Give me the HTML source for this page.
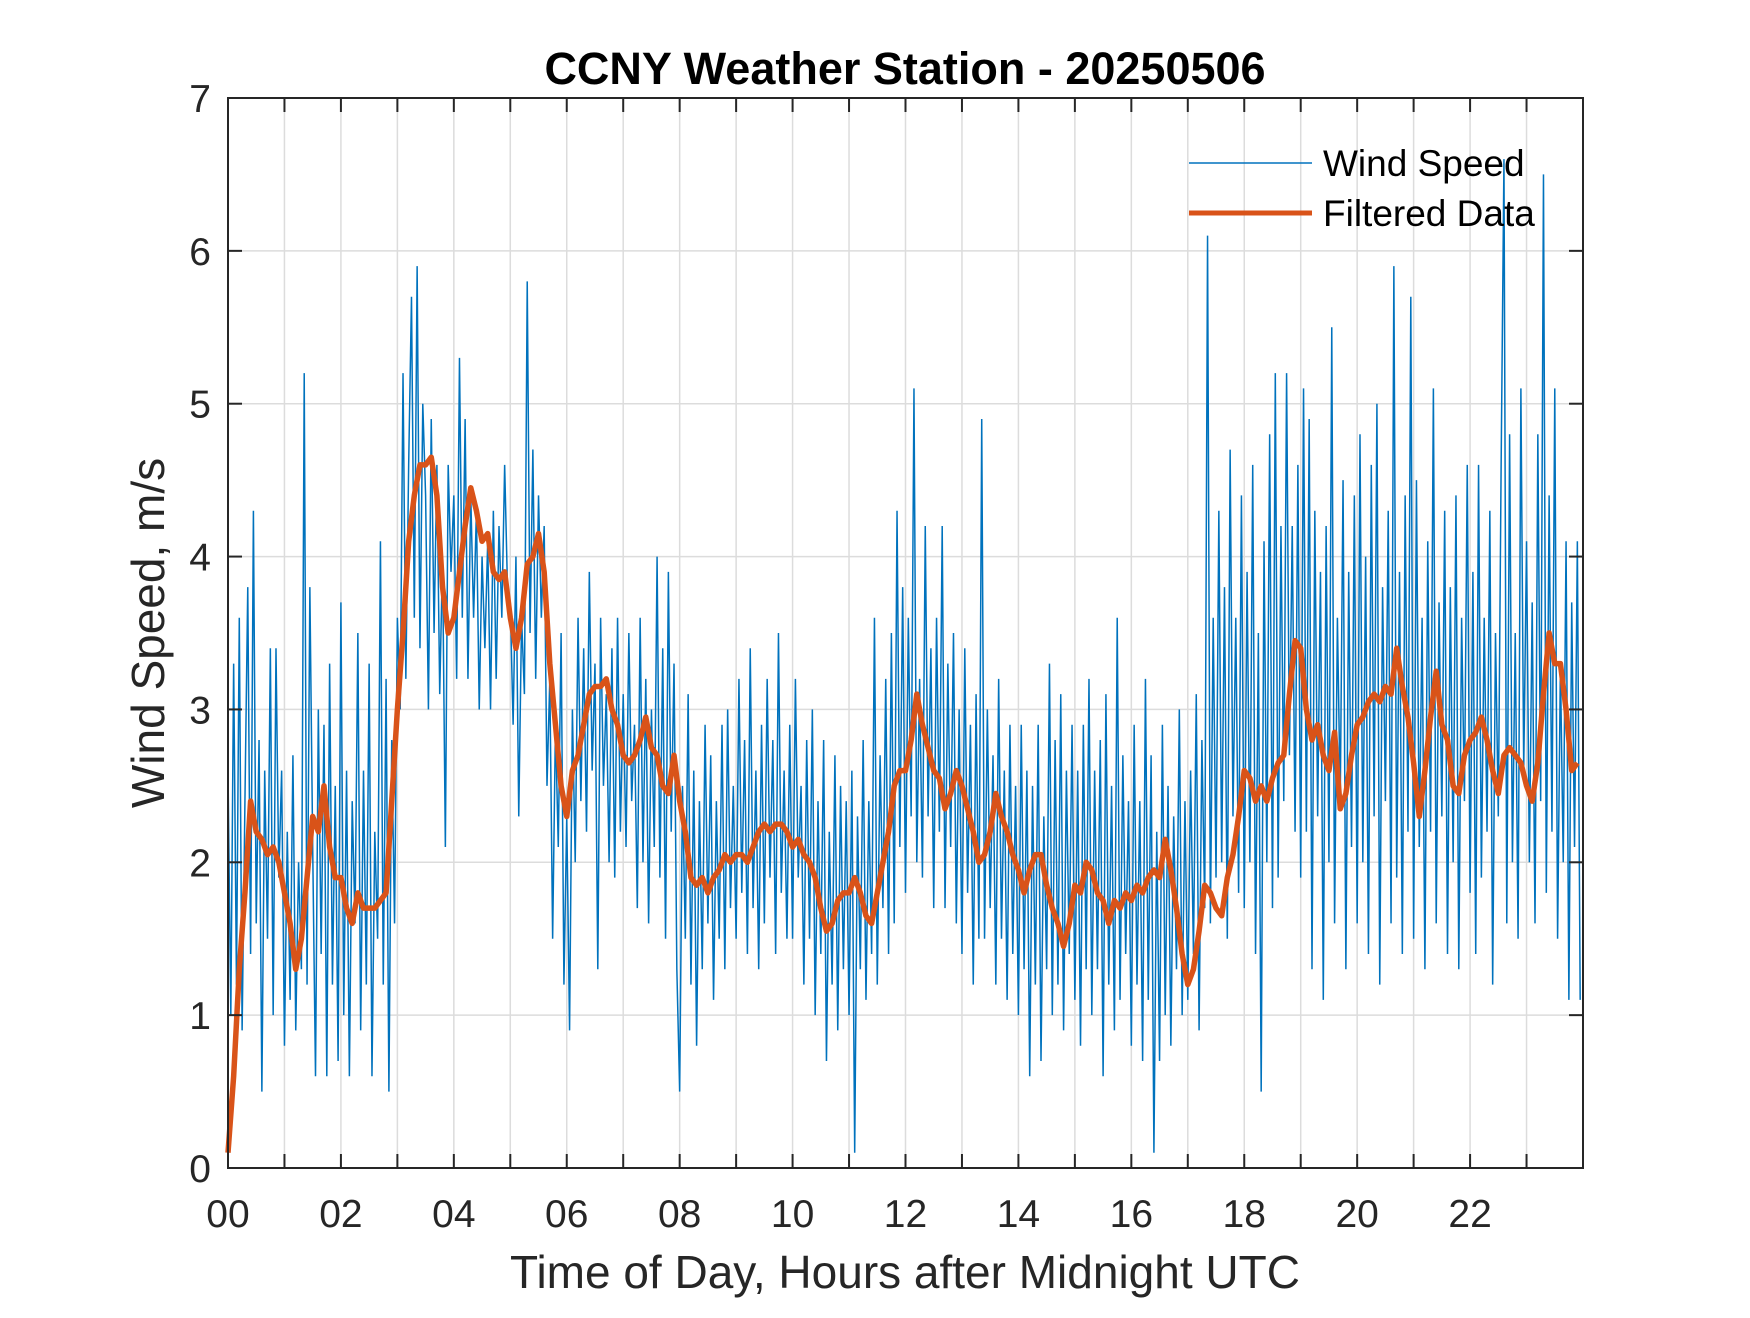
<!DOCTYPE html>
<html><head><meta charset="utf-8"><style>
body{margin:0;background:#fff}
svg text{font-family:"Liberation Sans",Arial,sans-serif;fill:#262626}
</style></head><body>
<svg id="chart" width="1750" height="1313" viewBox="0 0 1750 1313" xmlns="http://www.w3.org/2000/svg">
<rect width="1750" height="1313" fill="#fff"/>
<text x="905" y="84" text-anchor="middle" font-size="45" font-weight="bold" style="fill:#000">CCNY Weather Station - 20250506</text>
<g id="grid"></g>
<g id="series"></g>
<g id="axes"></g>
<text x="905" y="1288" text-anchor="middle" font-size="46">Time of Day, Hours after Midnight UTC</text>
<text transform="translate(164,633) rotate(-90)" text-anchor="middle" font-size="46">Wind Speed, m/s</text>
<g>
<line x1="1189" y1="163" x2="1312" y2="163" stroke="#0072BD" stroke-width="1.5"/>
<text x="1323" y="176" font-size="37" style="fill:#000">Wind Speed</text>
<line x1="1189" y1="213" x2="1312" y2="213" stroke="#D95319" stroke-width="5"/>
<text x="1323" y="226" font-size="37" style="fill:#000">Filtered Data</text>
</g>
</svg>
<script>
const xTickLabels=["00","02","04","06","08","10","12","14","16","18","20","22"];
const yTickLabels=["0","1","2","3","4","5","6","7"];
const windSpeed=[
2.6,1.0,3.3,1.2,3.6,0.9,2.4,3.8,1.4,4.3,1.6,2.8,0.5,2.6,1.5,3.4,1.0,3.4,1.9,2.6,
0.8,2.2,1.1,2.7,0.9,2.0,1.3,5.2,1.2,3.8,2.1,0.6,3.0,1.4,2.9,0.6,3.3,1.2,2.5,0.7,
3.7,1.0,2.6,0.6,2.4,1.6,3.5,0.9,2.6,1.2,3.3,0.6,2.2,1.5,4.1,1.2,3.2,0.5,2.8,1.6,
3.6,3.0,5.2,3.2,4.6,5.7,3.6,5.9,3.4,5.0,4.4,3.0,4.9,3.5,4.6,3.1,4.0,2.1,4.6,3.9,
4.4,3.2,5.3,3.6,4.9,3.2,4.4,3.6,4.3,3.0,4.0,3.4,4.1,3.0,4.3,3.2,4.2,3.6,4.6,3.8,
3.7,2.9,4.0,2.3,3.6,3.1,5.8,3.5,4.7,3.2,4.4,3.6,4.2,2.5,3.2,1.5,2.9,2.1,3.5,1.2,
2.3,0.9,3.0,2.0,3.6,2.4,3.4,2.2,3.9,2.6,3.3,1.3,3.6,2.5,3.1,2.0,3.4,1.9,3.6,2.2,
3.1,2.1,3.5,2.4,2.9,1.7,3.6,2.0,3.2,1.6,3.0,2.1,4.0,1.9,3.4,1.5,3.9,2.2,3.3,1.3,
0.5,2.5,1.5,3.1,1.2,2.6,0.8,2.4,1.3,2.9,1.6,2.7,1.1,2.4,1.5,2.9,1.3,3.0,1.7,2.5,
1.5,3.2,1.8,2.8,1.4,3.4,1.7,2.6,1.3,2.9,1.6,3.2,1.9,2.8,1.4,3.5,1.8,2.6,1.5,2.9,
1.5,3.2,1.9,2.5,1.2,2.8,1.5,3.0,1.0,2.4,1.4,2.8,0.7,2.2,1.2,2.7,0.9,2.5,1.3,2.4,
1.0,2.6,0.1,2.3,1.3,2.8,1.1,2.4,1.4,3.6,1.2,2.7,1.7,3.2,1.4,3.5,1.6,4.3,2.1,3.8,
1.8,3.6,2.3,5.1,2.0,3.2,1.9,4.2,2.3,3.4,1.7,3.6,2.2,4.2,1.7,3.3,2.1,3.5,1.6,3.0,
1.4,3.4,1.8,2.9,1.2,3.1,1.5,4.9,1.5,3.0,1.7,2.7,1.2,3.2,1.5,2.6,1.1,2.9,1.4,2.5,
1.0,2.9,1.3,2.6,0.6,2.5,1.2,2.9,0.7,2.3,1.3,3.3,1.0,2.8,1.2,3.1,0.9,2.6,1.4,2.9,
1.1,2.6,0.8,2.9,1.3,3.2,1.0,2.6,1.3,2.8,0.6,3.1,1.2,2.5,0.9,3.6,1.1,2.7,1.4,2.4,
0.8,2.9,1.2,2.4,0.7,3.2,1.1,2.7,0.1,2.2,0.7,2.9,1.0,2.5,0.8,2.3,1.3,3.0,1.0,2.4,
1.1,2.6,1.4,3.1,0.9,2.8,1.7,6.1,1.6,3.6,1.9,4.3,2.0,3.8,1.5,4.7,2.3,3.6,1.8,4.4,
1.7,3.9,2.0,4.6,1.4,3.5,0.5,4.1,2.0,4.8,1.7,5.2,1.9,4.2,2.4,5.2,2.7,4.2,2.2,4.6,
1.9,5.1,2.2,4.9,1.3,4.3,2.3,3.9,1.1,4.2,2.0,5.5,1.6,3.6,2.4,4.5,1.3,3.9,2.1,4.4,
1.6,4.8,2.0,4.0,1.4,4.6,2.3,5.0,1.2,3.8,2.4,4.3,1.6,5.9,1.9,3.9,1.4,4.4,2.2,5.7,
1.5,4.5,2.1,3.6,1.3,4.1,2.2,5.1,1.6,3.7,2.3,4.3,1.4,3.8,2.0,4.4,1.3,3.6,2.4,4.6,
1.8,3.9,1.4,4.6,1.9,3.6,2.2,4.3,1.2,3.5,2.3,4.6,6.6,1.6,4.8,2.0,3.5,1.5,5.1,2.6,
4.1,2.0,3.7,1.6,4.8,2.4,6.5,1.8,4.4,2.2,5.1,1.5,3.3,2.0,4.1,1.1,3.7,2.1,4.1,1.1];
const filtered=[
0.1,0.6,1.3,1.8,2.4,2.2,2.15,2.05,2.1,2.0,1.8,1.6,1.3,1.5,1.9,2.3,2.2,2.5,2.1,1.9,
1.9,1.7,1.6,1.8,1.7,1.7,1.7,1.75,1.8,2.4,3.0,3.5,4.1,4.4,4.6,4.6,4.65,4.4,3.8,3.5,
3.6,3.9,4.2,4.45,4.3,4.1,4.15,3.9,3.85,3.9,3.6,3.4,3.6,3.95,4.0,4.15,3.9,3.3,2.9,2.5,
2.3,2.6,2.7,2.9,3.1,3.15,3.15,3.2,3.0,2.9,2.7,2.65,2.7,2.8,2.95,2.75,2.7,2.5,2.45,2.7,
2.4,2.2,1.9,1.85,1.9,1.8,1.9,1.95,2.05,2.0,2.05,2.05,2.0,2.1,2.2,2.25,2.2,2.25,2.25,2.2,
2.1,2.15,2.05,2.0,1.9,1.7,1.55,1.6,1.75,1.8,1.8,1.9,1.8,1.65,1.6,1.8,2.0,2.2,2.5,2.6,
2.6,2.8,3.1,2.9,2.75,2.6,2.55,2.35,2.45,2.6,2.5,2.35,2.2,2.0,2.05,2.2,2.45,2.3,2.2,2.05,
1.95,1.8,1.95,2.05,2.05,1.85,1.7,1.6,1.45,1.6,1.85,1.8,2.0,1.95,1.8,1.75,1.6,1.75,1.7,1.8,
1.75,1.85,1.8,1.9,1.95,1.9,2.15,1.95,1.7,1.4,1.2,1.3,1.55,1.85,1.8,1.7,1.65,1.9,2.05,2.3,
2.6,2.55,2.4,2.5,2.4,2.55,2.65,2.7,3.1,3.45,3.4,3.0,2.8,2.9,2.7,2.6,2.85,2.35,2.45,2.7,
2.9,2.95,3.05,3.1,3.05,3.15,3.1,3.4,3.15,2.95,2.65,2.3,2.6,2.95,3.25,2.9,2.8,2.5,2.45,2.7,
2.8,2.85,2.95,2.8,2.6,2.45,2.7,2.75,2.7,2.65,2.5,2.4,2.65,3.1,3.5,3.3,3.3,3.0,2.6,2.65];
const NS="http://www.w3.org/2000/svg";
const X0=228,X1=1583,Y0=1168,Y1=98;
const xs=h=>X0+h*(X1-X0)/24;
const ys=v=>Y0-v*(Y0-Y1)/7;
function mk(tag,attrs,parent){const e=document.createElementNS(NS,tag);for(const k in attrs)e.setAttribute(k,attrs[k]);parent.appendChild(e);return e;}
const grid=document.getElementById('grid'),series=document.getElementById('series'),axes=document.getElementById('axes');
for(let h=1;h<24;h++){const g=mk('line',{x1:xs(h),x2:xs(h),y1:Y1,y2:Y0,stroke:'#dcdcdc','stroke-width':1.5},grid);

}
for(let v=1;v<7;v++){const g=mk('line',{x1:X0,x2:X1,y1:ys(v),y2:ys(v),stroke:'#dcdcdc','stroke-width':1.5},grid);

}
const wp=mk('polyline',{points:windSpeed.map((v,i)=>xs(i*24/windSpeed.length)+','+ys(v)).join(' '),fill:'none',stroke:'#0072BD','stroke-width':1.5},series);


const fp=mk('polyline',{points:filtered.map((v,i)=>xs(i*24/filtered.length)+','+ys(v)).join(' '),fill:'none',stroke:'#D95319','stroke-width':5.5,'stroke-linejoin':'round'},series);


const box=mk('rect',{x:X0,y:Y1,width:X1-X0,height:Y0-Y1,fill:'none',stroke:'#262626','stroke-width':2},axes);


for(let h=1;h<24;h++){mk('line',{x1:xs(h),x2:xs(h),y1:Y0,y2:Y0-14,stroke:'#262626','stroke-width':2},axes);mk('line',{x1:xs(h),x2:xs(h),y1:Y1,y2:Y1+14,stroke:'#262626','stroke-width':2},axes);}
for(let v=1;v<7;v++){mk('line',{x1:X0,x2:X0+14,y1:ys(v),y2:ys(v),stroke:'#262626','stroke-width':2},axes);mk('line',{x1:X1,x2:X1-14,y1:ys(v),y2:ys(v),stroke:'#262626','stroke-width':2},axes);}
xTickLabels.forEach((t,i)=>{const e=mk('text',{x:xs(i*2),y:1227,'text-anchor':'middle','font-size':39},axes);e.textContent=t;

});
yTickLabels.forEach((t,i)=>{const e=mk('text',{x:211,y:ys(i)+14,'text-anchor':'end','font-size':39},axes);e.textContent=t;

});
</script>
</body></html>
